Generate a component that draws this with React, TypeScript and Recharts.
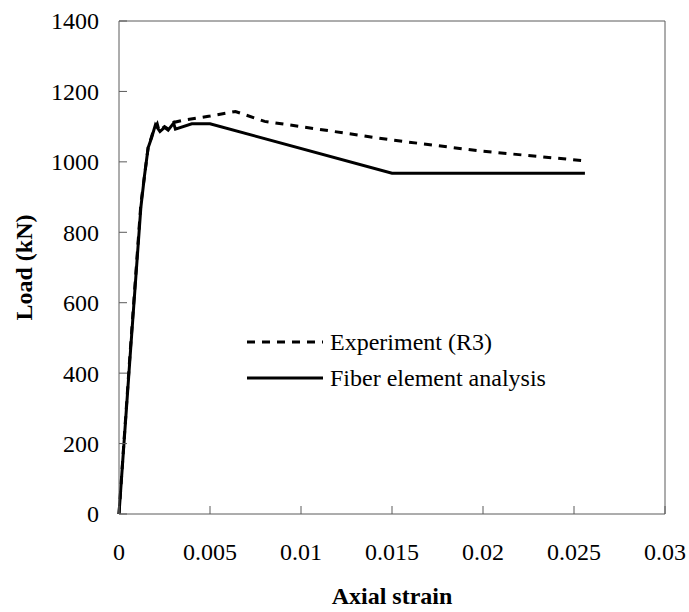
import React from "react";
import { Line, LineChart, ReferenceLine, XAxis, YAxis } from "recharts";

// Load–strain readings.
const experimentStrain = [0, 0.0006, 0.0012, 0.0016, 0.0019, 0.0021, 0.0022, 0.0025, 0.0027, 0.003, 0.0035, 0.005, 0.0064, 0.008, 0.01, 0.015, 0.02, 0.0256];
const experimentLoad = [0, 450, 880, 1040, 1090, 1108, 1088, 1100, 1093, 1112, 1118, 1130, 1143, 1115, 1100, 1062, 1030, 1003];

const fiberStrain = [0, 0.0006, 0.0012, 0.0014, 0.0016, 0.0018, 0.002, 0.00225, 0.0025, 0.0027, 0.003, 0.0031, 0.004, 0.005, 0.015, 0.0256];
const fiberLoad = [0, 440, 870, 960, 1040, 1070, 1105, 1086, 1098, 1090, 1110, 1093, 1108, 1108, 968, 968];

const xTicks = [0, 0.005, 0.01, 0.015, 0.02, 0.025, 0.03];
const yTicks = [0, 200, 400, 600, 800, 1000, 1200, 1400];

const seriesNames = ["Experiment (R3)", "Fiber element analysis"];

const experiment = experimentStrain.map((x, i) => ({ x, y: experimentLoad[i] }));
const fiber = fiberStrain.map((x, i) => ({ x, y: fiberLoad[i] }));

const FONT = '"Liberation Serif", "Times New Roman", serif';
const FS = 24;
const AXIS = "#5a5a5a";
const DASH = "8 7";

function XTick({ x, y, payload }: any) {
  return (
    <g>
      <line x1={x} y1={y} x2={x} y2={y - 8} stroke={AXIS} strokeWidth={1} />
      <text x={x} y={y + 38} dy="0.35em" textAnchor="middle" fontFamily={FONT} fontSize={FS} fill="#000">
        {String(payload.value)}
      </text>
    </g>
  );
}

function YTick({ x, y, payload }: any) {
  return (
    <g>
      <line x1={x} y1={y} x2={x + 8} y2={y} stroke={AXIS} strokeWidth={1} />
      <text x={x - 20} y={y} dy="0.35em" textAnchor="end" fontFamily={FONT} fontSize={FS} fill="#000">
        {String(payload.value)}
      </text>
    </g>
  );
}

function ChartLegend() {
  const rows: Array<[string, string | undefined]> = [
    [seriesNames[0], DASH],
    [seriesNames[1], undefined],
  ];
  return (
    <div style={{ position: "absolute", left: 247, top: 324, fontFamily: FONT, fontSize: FS, color: "#000" }}>
      {rows.map(([name, dash]) => (
        <div key={name} style={{ display: "flex", alignItems: "center", height: 36 }}>
          <svg width={76} height={6} style={{ marginRight: 7 }}>
            <line x1={0} y1={3} x2={76} y2={3} stroke="#000" strokeWidth={3} strokeDasharray={dash} />
          </svg>
          {name}
        </div>
      ))}
    </div>
  );
}

export default function App() {
  return (
    <div style={{ position: "fixed", left: 0, top: 0, width: 689, height: 612, background: "#fff" }}>
      <LineChart width={689} height={612} margin={{ top: 21, right: 24, bottom: 0, left: 0 }}>
        <XAxis
          dataKey="x"
          type="number"
          domain={[0, 0.03]}
          ticks={xTicks}
          allowDuplicatedCategory={false}
          height={98}
          tickSize={0}
          tickMargin={0}
          tickLine={false}
          tick={<XTick />}
          stroke={AXIS}
          interval={0}
          label={{
            content: ({ viewBox }: any) => (
              <text
                x={viewBox.x + viewBox.width / 2}
                y={viewBox.y + 90}
                textAnchor="middle"
                fontFamily={FONT}
                fontSize={FS}
                fontWeight="bold"
              >
                Axial strain
              </text>
            ),
          }}
        />
        <YAxis
          dataKey="y"
          type="number"
          domain={[0, 1400]}
          ticks={yTicks}
          width={119}
          tickSize={0}
          tickMargin={0}
          tickLine={false}
          tick={<YTick />}
          stroke={AXIS}
          interval={0}
          label={{
            content: ({ viewBox }: any) => {
              const cx = 24;
              const cy = viewBox.y + viewBox.height / 2;
              return (
                <text
                  x={cx}
                  y={cy}
                  dy="0.35em"
                  textAnchor="middle"
                  transform={`rotate(-90, ${cx}, ${cy})`}
                  fontFamily={FONT}
                  fontSize={FS}
                  fontWeight="bold"
                >
                  Load (kN)
                </text>
              );
            },
          }}
        />
        <ReferenceLine y={1400} stroke={AXIS} strokeWidth={1} />
        <ReferenceLine x={0.03} stroke={AXIS} strokeWidth={1} />
        <Line
          data={experiment}
          dataKey="y"
          name={seriesNames[0]}
          type="linear"
          stroke="#000"
          strokeWidth={3}
          strokeDasharray={DASH}
          dot={false}
          isAnimationActive={false}
        />
        <Line
          data={fiber}
          dataKey="y"
          name={seriesNames[1]}
          type="linear"
          stroke="#000"
          strokeWidth={3}
          dot={false}
          isAnimationActive={false}
        />
      </LineChart>
      <ChartLegend />
    </div>
  );
}
